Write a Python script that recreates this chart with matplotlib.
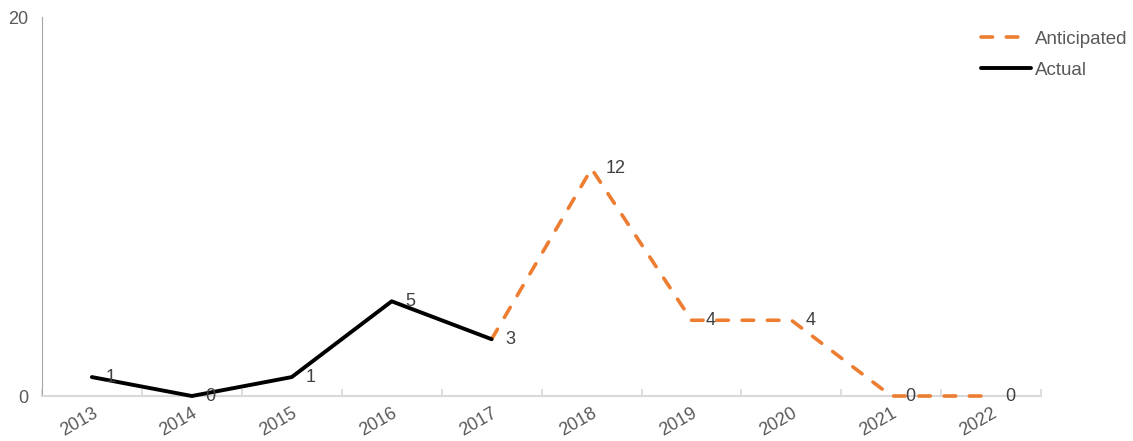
import matplotlib.pyplot as plt

plt.rcParams['font.family'] = ['Liberation Sans', 'DejaVu Sans']

years = ['2013', '2014', '2015', '2016', '2017', '2018', '2019', '2020', '2021', '2022']
actual_years = years[:5]
actual = [1, 0, 1, 5, 3]
anticipated_years = years[4:]
anticipated = [3, 12, 4, 4, 0, 0]

ORANGE = '#ED7D31'
GREY_TEXT = '#595959'
LABEL_TEXT = '#404040'

fig = plt.figure(figsize=(11.33, 4.41), dpi=100)
ax = fig.add_axes([0.037, 0.102, 0.882, 0.859])

x_all = list(range(len(years)))
x_act = [years.index(y) for y in actual_years]
x_ant = [years.index(y) for y in anticipated_years]

ax.plot(x_ant, anticipated, color=ORANGE, lw=2.6, dashes=(3.2, 3.8),
        dash_capstyle='round', label='Anticipated', clip_on=False, zorder=3)
ax.plot(x_act, actual, color='black', lw=2.8, label='Actual',
        solid_capstyle='round', clip_on=False, zorder=3)

# data labels right of each point
for x, v in zip(x_act, actual):
    ax.annotate(str(v), (x, v), xytext=(10, 0), textcoords='offset points',
                ha='left', va='center', fontsize=13, color=LABEL_TEXT, zorder=4)
for x, v in zip(x_ant[1:], anticipated[1:]):
    ax.annotate(str(v), (x, v), xytext=(10, 0), textcoords='offset points',
                ha='left', va='center', fontsize=13, color=LABEL_TEXT, zorder=4)

ax.set_xlim(-0.5, len(years) - 0.5)
ax.set_ylim(0, 20)
ax.set_yticks([0, 20])
ax.set_yticklabels(['0', '20'], fontsize=13, color=GREY_TEXT)
ax.tick_params(axis='y', length=0, pad=10)

# category ticks at boundaries, labels at centers
ax.set_xticks([i - 0.5 for i in range(len(years) + 1)])
ax.set_xticklabels([])
ax.set_xticks(x_all, minor=True)
ax.set_xticklabels(years, minor=True, rotation=30, ha='right', rotation_mode='anchor',
                   fontsize=13, color=GREY_TEXT)
ax.tick_params(axis='x', which='major', direction='in', length=5, color='#D9D9D9', width=1.2)
ax.tick_params(axis='x', which='minor', length=0, pad=6)

for s in ['top', 'right']:
    ax.spines[s].set_visible(False)
ax.spines['left'].set_color('#A6A6A6')
ax.spines['bottom'].set_color('#D9D9D9')
ax.spines['bottom'].set_linewidth(1.5)

leg = ax.legend(loc='upper left', bbox_to_anchor=(0.932, 0.985), frameon=False,
                fontsize=13.5, handlelength=2.7, handletextpad=0.2, labelspacing=0.75,
                borderaxespad=0)
for t in leg.get_texts():
    t.set_color(GREY_TEXT)

fig.savefig('out.png', dpi=100)
